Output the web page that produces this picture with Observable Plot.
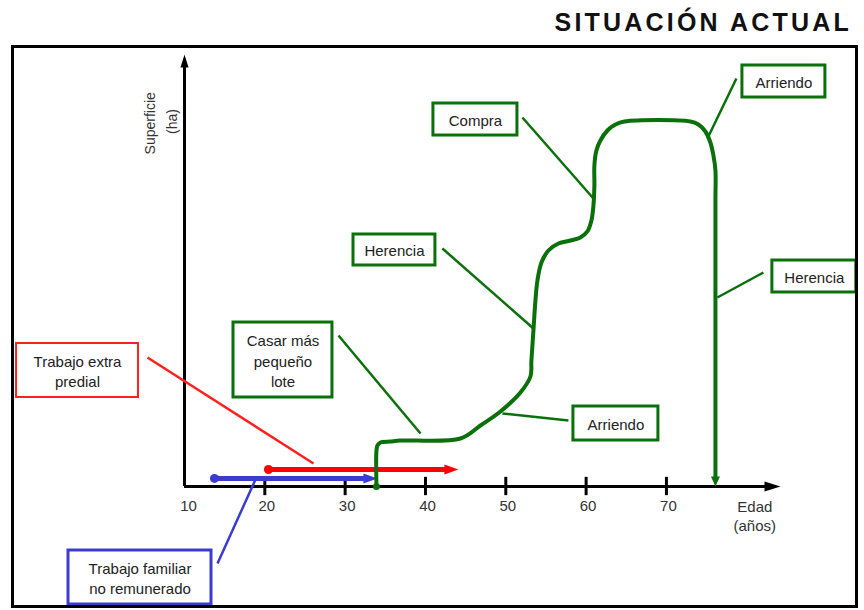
<!DOCTYPE html>
<html><head><meta charset="utf-8">
<script src="https://cdn.jsdelivr.net/npm/d3@7"></script>
<script src="https://cdn.jsdelivr.net/npm/@observablehq/plot@0.6"></script>
<style>
html,body{margin:0;padding:0;background:#fff;}
#wrap{position:relative;width:864px;height:610px;overflow:hidden;background:#fff;}
#title{position:absolute;right:12px;top:8px;font:bold 25px "Liberation Sans",Arial,sans-serif;letter-spacing:3.2px;color:#111;white-space:nowrap;}
#frame{position:absolute;left:11px;top:45px;width:847px;height:563px;box-sizing:border-box;border:3px solid #000;pointer-events:none;}
#chart{position:absolute;left:0;top:0;}
</style></head><body>
<div id="wrap"><div id="title">SITUACIÓN ACTUAL</div><div id="chart"></div><div id="frame"></div></div>
<script>
// ---- data ----
const xDomain = [10, 84.2];
const yDomain = [0, 100];
const tickValues = [10, 20, 30, 40, 50, 60, 70];
const tickLabels = ["10", "20", "30", "40", "50", "60", "70"];
const xAxisTitle = "Edad\n(años)";
const yAxisTitle = "Superficie";
const yAxisUnit = "(ha)";

// green trajectory: age (años) vs. surface (arbitrary units)
const curveAge = [33.90, 33.90, 34.02, 34.40, 35.64, 36.89, 44.35, 46.84, 49.33, 51.82, 53.07, 53.19, 53.44, 53.69, 53.94, 54.44, 55.31, 56.55, 58.05, 59.29, 60.16, 60.66, 60.91, 61.03, 61.03, 61.28, 61.78, 62.65, 63.65, 64.77, 72.98, 73.98, 74.85, 75.47, 75.85, 76.10, 76.10, 76.10];
const curveSurface = [0, 8.26, 9.40, 10.09, 10.32, 10.55, 11.01, 13.99, 17.20, 21.56, 25.23, 28.90, 35.78, 42.66, 47.25, 51.38, 54.13, 55.73, 56.42, 57.11, 58.49, 61.01, 64.45, 69.04, 73.62, 77.06, 79.36, 81.65, 83.03, 83.72, 83.72, 83.03, 81.42, 78.90, 75.92, 72.48, 65.60, 1.8];
const curveEnd = [76.10, 0];

// work spans
const spanName = ["Trabajo familiar no remunerado", "Trabajo extra predial"];
const spanStart = [13.73, 20.45];
const spanEnd = [34.02, 44.10];
const spanLevel = [1.85, 3.90];
const spanColor = ["#3b3bd0", "#ff0000"];

// annotation boxes
const boxText = ["Compra", "Arriendo", "Herencia", "Herencia", "Casar más\npequeño\nlote", "Arriendo", "Trabajo extra\npredial", "Trabajo familiar\nno remunerado"];
const boxX1 = [40.99, 79.46, 83.19, 31.04, 16.10, 58.42, -10.91, -4.44];
const boxX2 = [51.45, 89.79, 93.64, 41.24, 28.42, 69.00, 4.27, 13.36];
const boxY1 = [80.50, 89.22, 44.50, 50.69, 20.41, 10.55, 20.41, -27.06];
const boxY2 = [87.84, 96.56, 51.83, 57.80, 37.61, 18.35, 32.80, -14.68];
const boxColor = ["#0a700a", "#0a700a", "#0a700a", "#0a700a", "#0a700a", "#0a700a", "#ff2020", "#3b3bd0"];

// leader lines
const leadX1 = [52.07, 78.71, 82.07, 42.11, 29.17, 57.80, 5.39, 14.11];
const leadY1 = [84.63, 93.58, 49.08, 54.59, 34.63, 15.14, 29.59, -17.66];
const leadX2 = [60.91, 75.10, 76.34, 53.44, 39.38, 49.58, 26.06, 18.84];
const leadY2 = [66.06, 79.82, 43.35, 36.24, 12.16, 16.74, 5.28, 1.61];

// ---- tables ----
const green = "#0a700a";
const curve = curveAge.map((a, i) => ({age: a, sup: curveSurface[i]}));
const spans = spanName.map((n, i) => ({name: n, start: spanStart[i], end: spanEnd[i], level: spanLevel[i], color: spanColor[i]}));
const boxes = boxText.map((t, i) => ({text: t, x1: boxX1[i], x2: boxX2[i], y1: boxY1[i], y2: boxY2[i], color: boxColor[i], cx: (boxX1[i] + boxX2[i]) / 2, cy: (boxY1[i] + boxY2[i]) / 2}));
const leaders = leadX1.map((x, i) => ({x1: x, y1: leadY1[i], x2: leadX2[i], y2: leadY2[i], color: boxColor[i]}));
const ticks = tickValues.map((v, i) => ({v, label: tickLabels[i]}));

function arrowHead(dir, len, wid) {
  return {draw(ctx) {
    const h = wid / 2;
    if (dir === "right") { ctx.moveTo(0, 0); ctx.lineTo(-len, -h); ctx.lineTo(-len, h); }
    else if (dir === "down") { ctx.moveTo(0, 0); ctx.lineTo(-h, -len); ctx.lineTo(h, -len); }
    else { ctx.moveTo(0, 0); ctx.lineTo(-h, len); ctx.lineTo(h, len); }
    ctx.closePath();
  }};
}

const font = "'Liberation Sans', Arial, sans-serif";

const chart = Plot.plot({
  width: 864, height: 610,
  marginTop: 50, marginBottom: 124, marginLeft: 184, marginRight: 84,
  x: {domain: xDomain, axis: null},
  y: {domain: yDomain, axis: null},
  color: {type: "identity"},
  style: {background: "transparent", fontFamily: font},
  marks: [
    // axes
    Plot.ruleY([0], {x1: xDomain[0], x2: xDomain[1] - 1.5, stroke: "#000", strokeWidth: 3}),
    Plot.ruleX([xDomain[0]], {y1: 0, y2: yDomain[1] - 2, stroke: "#000", strokeWidth: 3}),
    Plot.dot([{x: xDomain[1], y: 0}], {x: "x", y: "y", symbol: arrowHead("right", 16, 10), fill: "#000", stroke: null}),
    Plot.dot([{x: xDomain[0], y: yDomain[1]}], {x: "x", y: "y", dy: 4, symbol: arrowHead("up", 13, 8), fill: "#000", stroke: null}),
    Plot.ruleX(ticks.filter(d => d.v > xDomain[0]), {x: "v", y1: -2.1, y2: 2.1, stroke: "#000", strokeWidth: 3}),
    Plot.text(ticks.filter(d => d.v === xDomain[0]), {x: "v", y: 0, text: "label", dy: 20, dx: 4, fontSize: 15, fill: "#333", fontFamily: font}),
    Plot.text(ticks.filter(d => d.v > xDomain[0]), {x: "v", y: 0, text: "label", dy: 20, dx: 2, fontSize: 15, fill: "#333", fontFamily: font}),
    Plot.text([xAxisTitle], {x: 81.0, y: 0, text: d => d, dy: 12, lineAnchor: "top", lineHeight: 1.25, fontSize: 15, fill: "#333", fontFamily: font}),
    Plot.text([yAxisTitle], {x: 5.8, y: 83.3, text: d => d, rotate: -90, fontSize: 14, fill: "#333", fontFamily: font}),
    Plot.text([yAxisUnit], {x: 8.5, y: 83.7, text: d => d, rotate: -90, fontSize: 14, fill: "#333", fontFamily: font}),
    // boxes
    Plot.rect(boxes, {x1: "x1", x2: "x2", y1: "y1", y2: "y2", fill: "white", stroke: "color", strokeWidth: d => d.color === "#ff2020" ? 2 : 3}),
    Plot.text(boxes, {x: "cx", y: "cy", text: "text", fontSize: 15, lineHeight: 1.35, fill: "#222", fontFamily: font}),
    Plot.link(leaders, {x1: "x1", y1: "y1", x2: "x2", y2: "y2", stroke: "color", strokeWidth: 2.5}),
    // work spans
    Plot.ruleY(spans, {y: "level", x1: "start", x2: d => d.end - 1.2, stroke: "color", strokeWidth: 5}),
    Plot.dot(spans, {x: "start", y: "level", r: 4.5, fill: "color", stroke: null}),
    Plot.dot(spans, {x: "end", y: "level", symbol: arrowHead("right", 14, 10), fill: "color", stroke: null}),
    // land trajectory
    Plot.line(curve, {x: "age", y: "sup", curve: "catmull-rom", stroke: green, strokeWidth: 4, strokeLinejoin: "round"}),
    Plot.dot([curve[0]], {x: "age", y: "sup", r: 3.5, fill: green, stroke: null}),
    Plot.dot([{x: curveEnd[0], y: curveEnd[1]}], {x: "x", y: "y", symbol: arrowHead("down", 10, 9), fill: green, stroke: null})
  ]
});
document.getElementById("chart").appendChild(chart);
</script>
</body></html>
